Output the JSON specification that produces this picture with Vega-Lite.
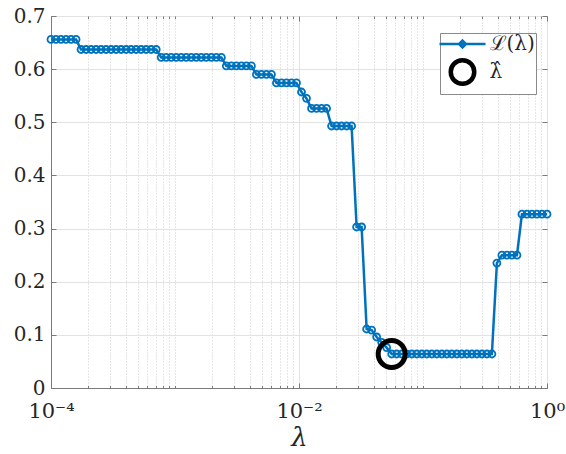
{
  "$schema": "https://vega.github.io/schema/vega-lite/v6.json",
  "width": 496,
  "height": 372,
  "autosize": "none",
  "padding": {"left": 51, "top": 16, "right": 19, "bottom": 66},
  "background": "white",
  "config": {
    "view": {"stroke": "#7a7a7a", "strokeWidth": 1},
    "axis": {
      "labelFont": "DejaVu Serif",
      "labelFontSize": 21,
      "labelColor": "#262626",
      "domainColor": "#7a7a7a",
      "tickColor": "#7a7a7a",
      "titleFont": "DejaVu Serif",
      "titleFontWeight": "normal",
      "titleColor": "#262626",
      "labelFlush": false,
      "labelOverlap": false
    }
  },
  "datasets": {
    "loss": [
      {"x": 0.00010000, "L": 0.656}, {"x": 0.00010975, "L": 0.656}, {"x": 0.00012045, "L": 0.656}, {"x": 0.00013219, "L": 0.656}, {"x": 0.00014508, "L": 0.656}, {"x": 0.00015922, "L": 0.656},
      {"x": 0.00017475, "L": 0.637}, {"x": 0.00019179, "L": 0.637}, {"x": 0.00021049, "L": 0.637}, {"x": 0.00023101, "L": 0.637}, {"x": 0.00025353, "L": 0.637}, {"x": 0.00027825, "L": 0.637},
      {"x": 0.00030538, "L": 0.637}, {"x": 0.00033515, "L": 0.637}, {"x": 0.00036783, "L": 0.637}, {"x": 0.00040369, "L": 0.637}, {"x": 0.00044305, "L": 0.637}, {"x": 0.00048625, "L": 0.637},
      {"x": 0.00053366, "L": 0.637}, {"x": 0.00058569, "L": 0.637}, {"x": 0.00064280, "L": 0.637}, {"x": 0.00070547, "L": 0.637},
      {"x": 0.00077425, "L": 0.622}, {"x": 0.00084974, "L": 0.622}, {"x": 0.00093259, "L": 0.622}, {"x": 0.0010235, "L": 0.622}, {"x": 0.0011233, "L": 0.622}, {"x": 0.0012328, "L": 0.622},
      {"x": 0.0013530, "L": 0.622}, {"x": 0.0014849, "L": 0.622}, {"x": 0.0016297, "L": 0.622}, {"x": 0.0017886, "L": 0.622}, {"x": 0.0019630, "L": 0.622}, {"x": 0.0021544, "L": 0.622},
      {"x": 0.0023644, "L": 0.622},
      {"x": 0.0025950, "L": 0.606}, {"x": 0.0028480, "L": 0.606}, {"x": 0.0031257, "L": 0.606}, {"x": 0.0034304, "L": 0.606}, {"x": 0.0037649, "L": 0.606}, {"x": 0.0041319, "L": 0.606},
      {"x": 0.0045348, "L": 0.590}, {"x": 0.0049769, "L": 0.590}, {"x": 0.0054622, "L": 0.590}, {"x": 0.0059947, "L": 0.590},
      {"x": 0.0065792, "L": 0.574}, {"x": 0.0072207, "L": 0.574}, {"x": 0.0079247, "L": 0.574}, {"x": 0.0086973, "L": 0.574}, {"x": 0.0095453, "L": 0.574},
      {"x": 0.010476, "L": 0.557}, {"x": 0.011498, "L": 0.545},
      {"x": 0.012619, "L": 0.526}, {"x": 0.013849, "L": 0.526}, {"x": 0.015199, "L": 0.526}, {"x": 0.016681, "L": 0.526},
      {"x": 0.018307, "L": 0.493}, {"x": 0.020092, "L": 0.493}, {"x": 0.022051, "L": 0.493}, {"x": 0.024201, "L": 0.493}, {"x": 0.026561, "L": 0.493},
      {"x": 0.029150, "L": 0.303}, {"x": 0.031992, "L": 0.303},
      {"x": 0.035112, "L": 0.111}, {"x": 0.038535, "L": 0.109}, {"x": 0.042292, "L": 0.096}, {"x": 0.046415, "L": 0.086}, {"x": 0.050941, "L": 0.076},
      {"x": 0.055907, "L": 0.064}, {"x": 0.061358, "L": 0.064}, {"x": 0.067341, "L": 0.064}, {"x": 0.073906, "L": 0.064}, {"x": 0.081112, "L": 0.064}, {"x": 0.089020, "L": 0.064},
      {"x": 0.097700, "L": 0.064}, {"x": 0.10723, "L": 0.064}, {"x": 0.11768, "L": 0.064}, {"x": 0.12916, "L": 0.064}, {"x": 0.14175, "L": 0.064}, {"x": 0.15557, "L": 0.064},
      {"x": 0.17074, "L": 0.064}, {"x": 0.18738, "L": 0.064}, {"x": 0.20565, "L": 0.064}, {"x": 0.22570, "L": 0.064}, {"x": 0.24771, "L": 0.064}, {"x": 0.27186, "L": 0.064},
      {"x": 0.29836, "L": 0.064}, {"x": 0.32745, "L": 0.064}, {"x": 0.35938, "L": 0.064},
      {"x": 0.39442, "L": 0.235},
      {"x": 0.43287, "L": 0.250}, {"x": 0.47508, "L": 0.250}, {"x": 0.52140, "L": 0.250}, {"x": 0.57223, "L": 0.250},
      {"x": 0.62802, "L": 0.327}, {"x": 0.68925, "L": 0.327}, {"x": 0.75646, "L": 0.327}, {"x": 0.83021, "L": 0.327}, {"x": 0.91115, "L": 0.327}, {"x": 1.0, "L": 0.327}
    ],
    "hat": [{"x": 0.055907, "L": 0.064}]
  },
  "layer": [
    {
      "data": {"name": "loss"},
      "mark": {"type": "line", "strokeWidth": 2.5, "point": {"filled": false, "size": 49, "strokeWidth": 1.8, "opacity": 1}},
      "encoding": {
        "x": {
          "field": "x", "type": "quantitative",
          "scale": {"type": "log", "domain": [0.0001, 1], "nice": false},
          "axis": {
            "orient": "bottom", "values": [0.0001, 0.01, 1],
            "labelExpr": "datum.value >= 0.5 ? '10⁰' : datum.value >= 0.005 ? '10⁻²' : '10⁻⁴'",
            "tickSize": -5, "labelPadding": 17, "grid": true, "gridColor": "#e2e2e2",
            "title": "λ", "titleFontSize": 26, "titleFontStyle": "italic", "titlePadding": 3
          }
        },
        "y": {
          "field": "L", "type": "quantitative",
          "scale": {"domain": [0, 0.7], "nice": false, "zero": false},
          "axis": {
            "orient": "left", "values": [0, 0.1, 0.2, 0.3, 0.4, 0.5, 0.6, 0.7], "format": ".1~f",
            "tickSize": -5, "labelPadding": 11, "labelFontSize": 20, "grid": true, "gridColor": "#e2e2e2", "title": null
          }
        },
        "color": {
          "datum": "ℒ(λ)", "type": "nominal",
          "scale": {"domain": ["ℒ(λ)", "λ̂"], "range": ["#0072BD", "#000000"]},
          "legend": {
            "title": null, "orient": "none", "legendX": 389, "legendY": 17, "padding": 1, "rowPadding": -3,
            "labelFont": "DejaVu Serif", "labelFontSize": 20, "labelColor": "#262626",
            "symbolSize": 729, "symbolStrokeWidth": 2, "symbolOffset": 11.5, "labelOffset": 17,
            "strokeColor": "#8a8a8a", "fillColor": "white",
            "encode": {
              "symbols": {
                "update": {
                  "shape": {"signal": "datum.index === 1 ? 'circle' : 'M-2,0H2M0,-0.3L0.3,0L0,0.3L-0.3,0Z'"},
                  "size": {"signal": "datum.index === 1 ? 552 : 529"},
                  "strokeWidth": {"signal": "datum.index === 1 ? 4.5 : 2.5"},
                  "stroke": {"signal": "datum.index === 1 ? '#000000' : '#0072BD'"},
                  "fill": {"signal": "datum.index === 1 ? 'transparent' : 'white'"},
                  "opacity": {"value": 1}
                }
              }
            }
          }
        }
      }
    },
    {
      "data": {"name": "hat"},
      "mark": {"type": "point", "filled": false, "size": 729, "strokeWidth": 5, "opacity": 1},
      "encoding": {
        "x": {
          "field": "x", "type": "quantitative",
          "scale": {"type": "log", "domain": [0.0001, 1], "nice": false},
          "axis": {
            "orient": "bottom",
            "values": [0.0002, 0.0003, 0.0004, 0.0005, 0.0006, 0.0007, 0.0008, 0.0009, 0.001, 0.002, 0.003, 0.004, 0.005, 0.006, 0.007, 0.008, 0.009, 0.02, 0.03, 0.04, 0.05, 0.06, 0.07, 0.08, 0.09, 0.1, 0.2, 0.3, 0.4, 0.5, 0.6, 0.7, 0.8, 0.9],
            "labels": false, "domain": false, "tickSize": -2.5, "grid": true, "gridColor": "#cdcdcd", "gridDash": [1, 2], "title": null
          }
        },
        "y": {
          "field": "L", "type": "quantitative",
          "scale": {"domain": [0, 0.7], "nice": false, "zero": false},
          "axis": {"orient": "right", "values": [0, 0.1, 0.2, 0.3, 0.4, 0.5, 0.6, 0.7], "labels": false, "domain": false, "grid": false, "tickSize": -5, "title": null}
        },
        "color": {"datum": "λ̂", "type": "nominal"}
      }
    },
    {
      "data": {"name": "hat"},
      "mark": {"type": "point", "opacity": 0},
      "encoding": {
        "x": {
          "field": "x", "type": "quantitative",
          "scale": {"type": "log", "domain": [0.0001, 1], "nice": false},
          "axis": {"orient": "top", "values": [0.0001, 0.01, 1], "labels": false, "domain": false, "grid": false, "tickSize": -5, "title": null}
        },
        "y": {"field": "L", "type": "quantitative", "axis": null}
      }
    },
    {
      "data": {"name": "hat"},
      "mark": {"type": "point", "opacity": 0},
      "encoding": {
        "x": {
          "field": "x", "type": "quantitative",
          "scale": {"type": "log", "domain": [0.0001, 1], "nice": false},
          "axis": {
            "orient": "top",
            "values": [0.0002, 0.0003, 0.0004, 0.0005, 0.0006, 0.0007, 0.0008, 0.0009, 0.001, 0.002, 0.003, 0.004, 0.005, 0.006, 0.007, 0.008, 0.009, 0.02, 0.03, 0.04, 0.05, 0.06, 0.07, 0.08, 0.09, 0.1, 0.2, 0.3, 0.4, 0.5, 0.6, 0.7, 0.8, 0.9],
            "labels": false, "domain": false, "grid": false, "tickSize": -2.5, "title": null
          }
        },
        "y": {"field": "L", "type": "quantitative", "axis": null}
      }
    }
  ],
  "resolve": {"axis": {"x": "independent", "y": "independent"}}
}
